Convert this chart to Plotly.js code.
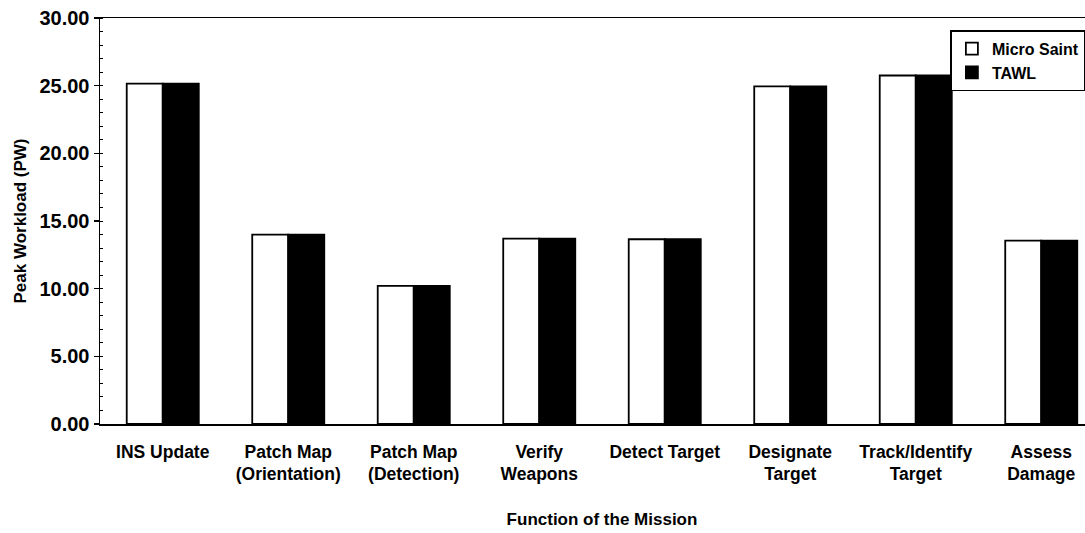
<!DOCTYPE html>
<html>
<head>
<meta charset="utf-8">
<script src="https://cdn.plot.ly/plotly-3.0.1.min.js"></script>
<style>
html, body { margin: 0; padding: 0; overflow: hidden; background: #fff; }
#chart { width: 1106px; height: 533px; }
</style>
</head>
<body>
<div id="chart"></div>
<script>
const categories = [
  "INS Update",
  "Patch Map<br>(Orientation)",
  "Patch Map<br>(Detection)",
  "Verify<br>Weapons",
  "Detect Target",
  "Designate<br>Target",
  "Track/Identify<br>Target",
  "Assess<br>Damage"
];
const microSaint = [25.15, 14.0, 10.2, 13.7, 13.65, 24.95, 25.75, 13.55];
const tawl       = [25.15, 14.0, 10.2, 13.7, 13.65, 24.95, 25.75, 13.55];
const seriesNames = ["Micro Saint", "TAWL"];
const yTitle = "Peak Workload (PW)";
const xTitle = "Function of the Mission";

const fam = "Arial, 'Liberation Sans', sans-serif";
const f = (s) => ({ family: fam, size: s, color: "#000", weight: "bold" });

const traces = [
  { type: "bar", name: seriesNames[0], x: categories, y: microSaint,
    marker: { color: "#ffffff", line: { color: "#000", width: 1.8 } } },
  { type: "bar", name: seriesNames[1], x: categories, y: tawl,
    marker: { color: "#000000", line: { color: "#000", width: 1.8 } } }
];

const layout = {
  width: 1106, height: 533,
  margin: { l: 100, r: 2, t: 18, b: 109 },
  paper_bgcolor: "#fff", plot_bgcolor: "#fff",
  font: f(16),
  barmode: "group",
  bargap: 0.426,
  bargroupgap: 0,
  showlegend: true,
  legend: {
    x: 0.847, y: 0.97, xanchor: "left", yanchor: "top",
    bgcolor: "#fff", bordercolor: "#000", borderwidth: 1.5,
    font: f(16),
    itemwidth: 30,
    tracegroupgap: 2
  },
  xaxis: {
    type: "category",
    showline: true, linecolor: "#000", linewidth: 1.5, mirror: true,
    ticks: "", showgrid: false,
    ticklabelstandoff: 11,
    tickfont: f(17.5),
    title: { text: xTitle, standoff: 30, font: f(17) }
  },
  yaxis: {
    range: [0, 30], dtick: 5, tickformat: ".2f",
    showline: true, linecolor: "#000", linewidth: 1.5,
    ticks: "outside", ticklen: 5, tickwidth: 1.5, tickcolor: "#000",
    minor: { dtick: 1, ticks: "inside", ticklen: 3, tickwidth: 1, tickcolor: "#000" },
    showgrid: false, zeroline: false,
    tickfont: f(20),
    title: { text: yTitle, standoff: 8, font: f(17) }
  }
};

Plotly.newPlot("chart", traces, layout, { displayModeBar: false, staticPlot: true });
</script>
</body>
</html>
